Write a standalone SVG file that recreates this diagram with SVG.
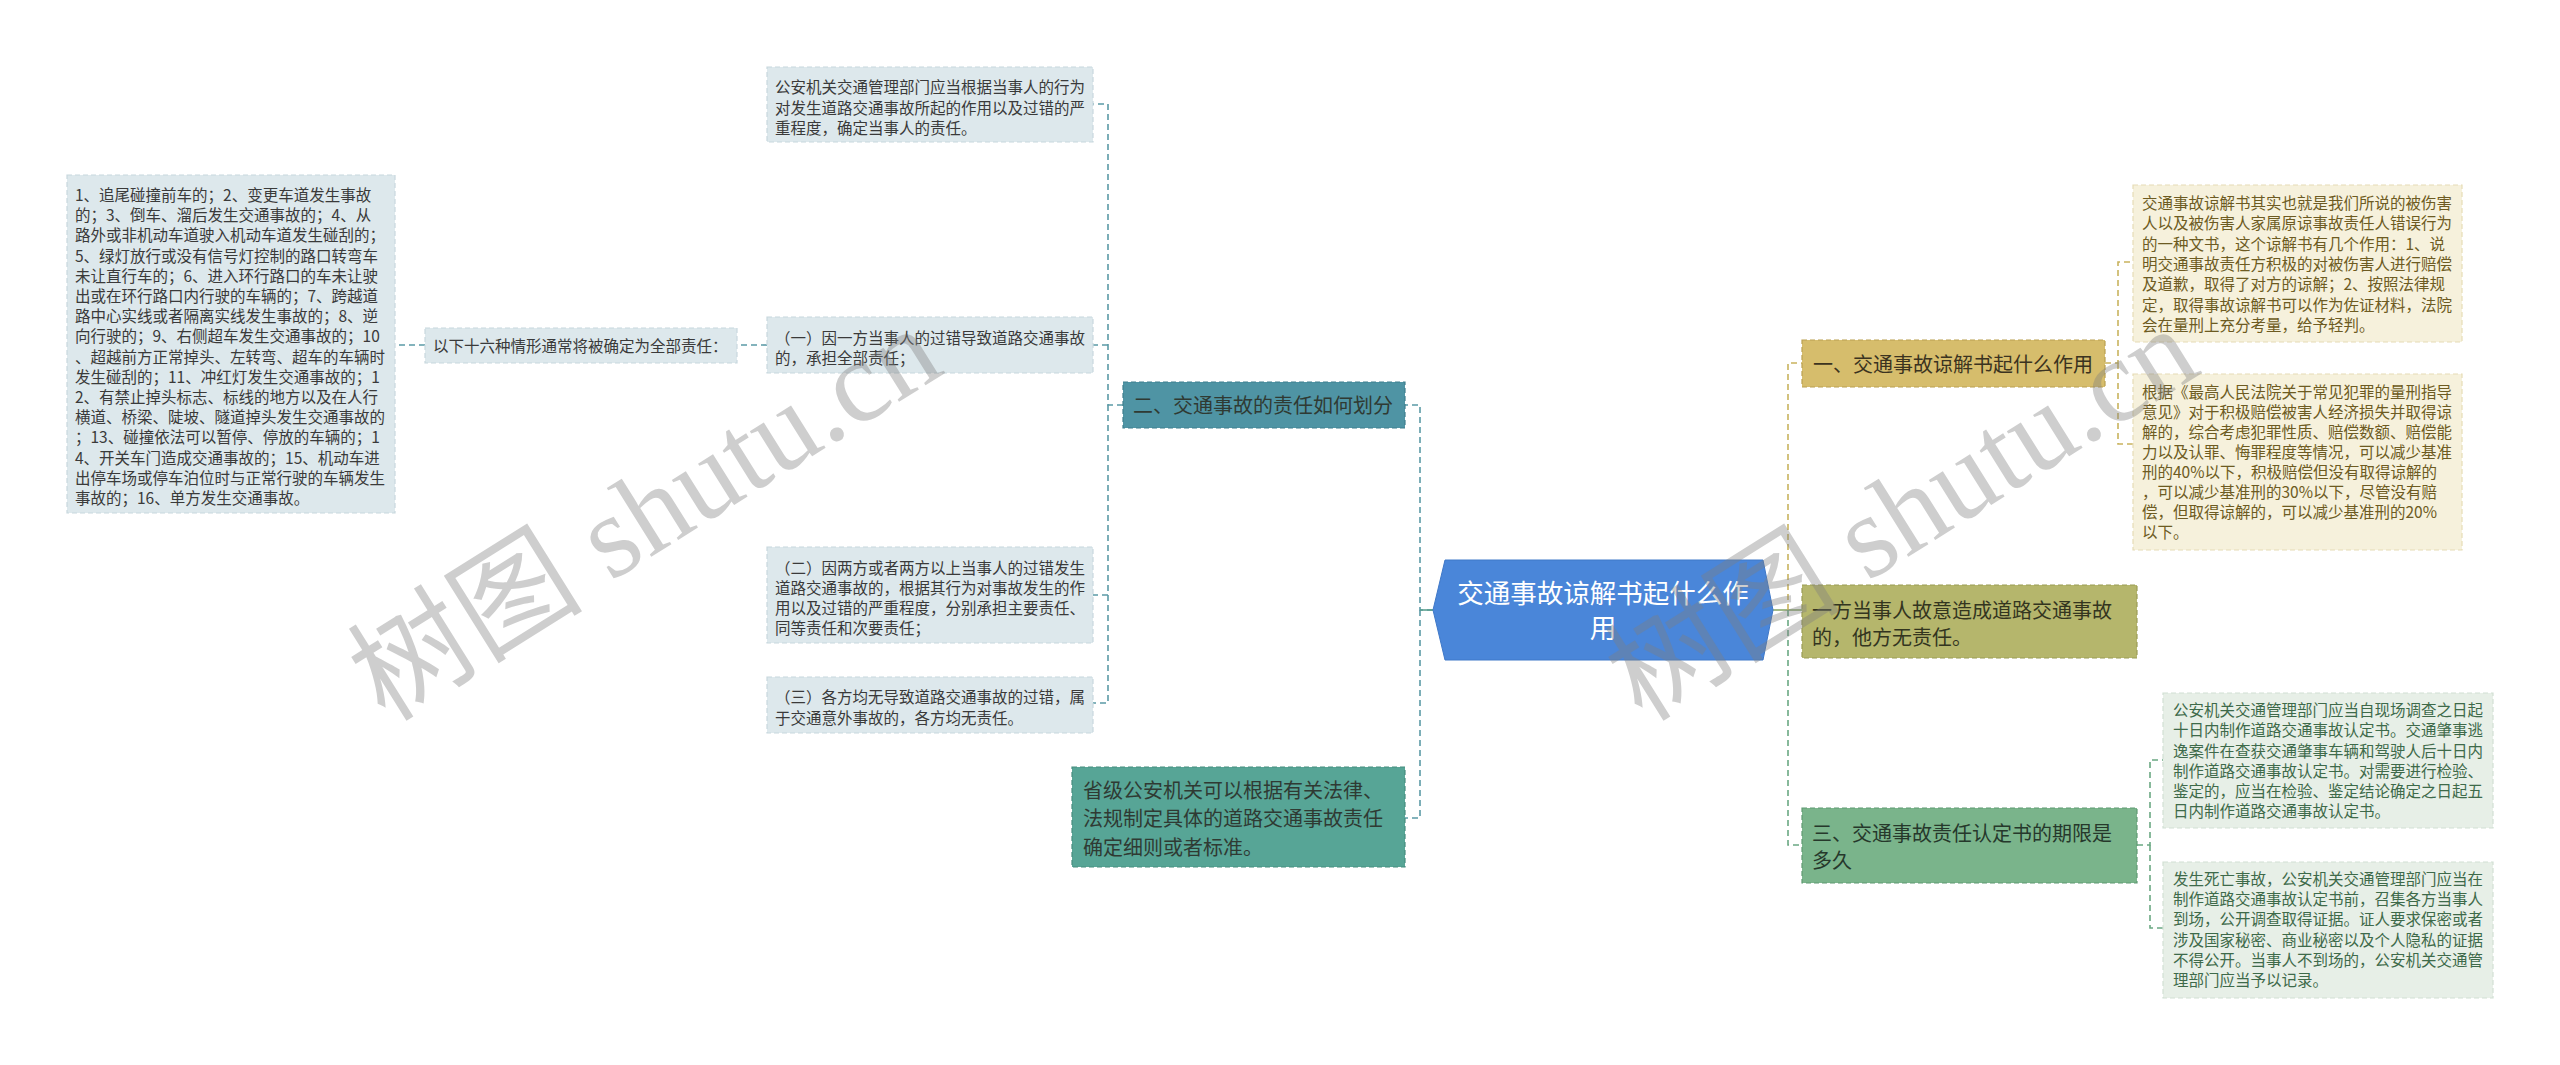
<svg xmlns="http://www.w3.org/2000/svg" width="2560" height="1065" viewBox="0 0 2560 1065">
<style>
text{font-family:"Noto Sans CJK SC","Noto Sans",sans-serif}
.s{font-size:15.5px}
.m{font-size:20px}
.lb{fill:#dde8ec;stroke:#c8d8de;stroke-width:1.2;stroke-dasharray:5 3}
.lbt{fill:#3a3a3a}
.yb{fill:#f6f1dc;stroke:#e6dcb6;stroke-width:1.2;stroke-dasharray:5 3}
.ybt{fill:#6d5b22}
.gb{fill:#e7efe7;stroke:#d2e0d4;stroke-width:1.2;stroke-dasharray:5 3}
.gbt{fill:#3e6a4a}
.mt{fill:#2f3a33}
.cl{fill:none;stroke-width:1.6;stroke-dasharray:6 4}
.teal{stroke:#5b9aa6}
.yel{stroke:#c9b35e}
.grn{stroke:#6aa882}
.wm{font-family:"Liberation Serif","Noto Sans CJK SC",serif;font-size:118px;fill:#7f7f7f;opacity:0.38}
</style>

<g id="connectors">
  <path class="cl teal" d="M1433,610 H1420 V405 H1405"/>
  <path class="cl teal" d="M1420,610 V818 H1405"/>
  <path class="cl teal" d="M1123,405 H1108 V104 H1093"/>
  <path class="cl teal" d="M1108,345 H1093"/>
  <path class="cl teal" d="M1108,405 V595 H1093"/>
  <path class="cl teal" d="M1108,595 V703 H1093"/>
  <path class="cl teal" d="M767,345 H737"/>
  <path class="cl teal" d="M425,345 H395"/>
  <path fill="none" stroke="#5a9e8e" stroke-width="1.6" d="M1420,610 H1433"/>
  <path fill="none" stroke="#8aa86a" stroke-width="1.6" d="M1773,610 H1802"/>
  <path class="cl yel" d="M1788,610 V363 H1802"/>
  <path class="cl grn" d="M1788,610 V845 H1802"/>
  <path class="cl yel" d="M2105,363 H2118 V262 H2133"/>
  <path class="cl yel" d="M2118,363 V444 H2133"/>
  <path class="cl grn" d="M2137,845 H2150 V760 H2163"/>
  <path class="cl grn" d="M2150,845 V928 H2163"/>
</g>

<g id="center">
  <polygon points="1433,610 1445,560 1763,560 1773,610 1763,660 1445,660" fill="#4a86d9" stroke="#3f78c8" stroke-width="1"/>
  <text x="1603" y="603" font-size="26.5" fill="#ffffff" text-anchor="middle">交通事故谅解书起什么作</text>
  <text x="1603" y="638" font-size="26.5" fill="#ffffff" text-anchor="middle">用</text>
</g>

<g id="n-left-main">
  <rect x="1123" y="382" width="282" height="46" fill="#4f94a4" stroke="#3f7f8e" stroke-width="1.2" stroke-dasharray="5 3"/>
  <text class="m mt" x="1133" y="413">二、交通事故的责任如何划分</text>
</g>

<g id="n-province">
  <rect x="1072" y="767" width="333" height="100" fill="#57a596" stroke="#468d7f" stroke-width="1.2" stroke-dasharray="5 3"/>
  <text class="m mt" x="1083" y="798">省级公安机关可以根据有关法律、</text>
  <text class="m mt" x="1083" y="826">法规制定具体的道路交通事故责任</text>
  <text class="m mt" x="1083" y="855">确定细则或者标准。</text>
</g>

<g id="n-l1">
  <rect class="lb" x="767" y="67" width="326" height="75"/>
  <text class="s lbt" x="775" y="93">公安机关交通管理部门应当根据当事人的行为</text>
  <text class="s lbt" x="775" y="114">对发生道路交通事故所起的作用以及过错的严</text>
  <text class="s lbt" x="775" y="134">重程度，确定当事人的责任。</text>
</g>

<g id="n-l2">
  <rect class="lb" x="767" y="317" width="326" height="56"/>
  <text class="s lbt" x="775" y="344">（一）因一方当事人的过错导致道路交通事故</text>
  <text class="s lbt" x="775" y="364">的，承担全部责任；</text>
</g>

<g id="n-l3">
  <rect class="lb" x="767" y="547" width="326" height="96"/>
  <text class="s lbt" x="775" y="574">（二）因两方或者两方以上当事人的过错发生</text>
  <text class="s lbt" x="775" y="594">道路交通事故的，根据其行为对事故发生的作</text>
  <text class="s lbt" x="775" y="614">用以及过错的严重程度，分别承担主要责任、</text>
  <text class="s lbt" x="775" y="634">同等责任和次要责任；</text>
</g>

<g id="n-l4">
  <rect class="lb" x="767" y="677" width="326" height="56"/>
  <text class="s lbt" x="775" y="703">（三）各方均无导致道路交通事故的过错，属</text>
  <text class="s lbt" x="775" y="724">于交通意外事故的，各方均无责任。</text>
</g>

<g id="n-l5">
  <rect class="lb" x="425" y="328" width="312" height="35"/>
  <text class="s lbt" x="433" y="352">以下十六种情形通常将被确定为全部责任：</text>
</g>

<g id="n-l6">
  <rect class="lb" x="67" y="175" width="328" height="338"/>
  <text class="s lbt" x="75" y="201">1、追尾碰撞前车的；2、变更车道发生事故</text>
  <text class="s lbt" x="75" y="221">的；3、倒车、溜后发生交通事故的；4、从</text>
  <text class="s lbt" x="75" y="241">路外或非机动车道驶入机动车道发生碰刮的；</text>
  <text class="s lbt" x="75" y="262">5、绿灯放行或没有信号灯控制的路口转弯车</text>
  <text class="s lbt" x="75" y="282">未让直行车的；6、进入环行路口的车未让驶</text>
  <text class="s lbt" x="75" y="302">出或在环行路口内行驶的车辆的；7、跨越道</text>
  <text class="s lbt" x="75" y="322">路中心实线或者隔离实线发生事故的；8、逆</text>
  <text class="s lbt" x="75" y="342">向行驶的；9、右侧超车发生交通事故的；10</text>
  <text class="s lbt" x="75" y="363">、超越前方正常掉头、左转弯、超车的车辆时</text>
  <text class="s lbt" x="75" y="383">发生碰刮的；11、冲红灯发生交通事故的；1</text>
  <text class="s lbt" x="75" y="403">2、有禁止掉头标志、标线的地方以及在人行</text>
  <text class="s lbt" x="75" y="423">横道、桥梁、陡坡、隧道掉头发生交通事故的</text>
  <text class="s lbt" x="75" y="443">；13、碰撞依法可以暂停、停放的车辆的；1</text>
  <text class="s lbt" x="75" y="464">4、开关车门造成交通事故的；15、机动车进</text>
  <text class="s lbt" x="75" y="484">出停车场或停车泊位时与正常行驶的车辆发生</text>
  <text class="s lbt" x="75" y="504">事故的；16、单方发生交通事故。</text>
</g>

<g id="n-r1">
  <rect x="1802" y="340" width="303" height="47" fill="#d6bd6c" stroke="#b9a050" stroke-width="1.2" stroke-dasharray="5 3"/>
  <text class="m" fill="#3b3320" x="1813" y="372">一、交通事故谅解书起什么作用</text>
</g>

<g id="n-r2">
  <rect x="1802" y="585" width="335" height="73" fill="#b5b66c" stroke="#9a9c55" stroke-width="1.2" stroke-dasharray="5 3"/>
  <text class="m" fill="#33351f" x="1812" y="618">一方当事人故意造成道路交通事故</text>
  <text class="m" fill="#33351f" x="1812" y="645">的，他方无责任。</text>
</g>

<g id="n-r3">
  <rect x="1802" y="808" width="335" height="75" fill="#7ab48b" stroke="#5f9a72" stroke-width="1.2" stroke-dasharray="5 3"/>
  <text class="m" fill="#26382b" x="1812" y="841">三、交通事故责任认定书的期限是</text>
  <text class="m" fill="#26382b" x="1812" y="868">多久</text>
</g>

<g id="n-r1a">
  <rect class="yb" x="2133" y="185" width="329" height="157"/>
  <text class="s ybt" x="2142" y="209">交通事故谅解书其实也就是我们所说的被伤害</text>
  <text class="s ybt" x="2142" y="229">人以及被伤害人家属原谅事故责任人错误行为</text>
  <text class="s ybt" x="2142" y="250">的一种文书，这个谅解书有几个作用：1、说</text>
  <text class="s ybt" x="2142" y="270">明交通事故责任方积极的对被伤害人进行赔偿</text>
  <text class="s ybt" x="2142" y="290">及道歉，取得了对方的谅解；2、按照法律规</text>
  <text class="s ybt" x="2142" y="311">定，取得事故谅解书可以作为佐证材料，法院</text>
  <text class="s ybt" x="2142" y="331">会在量刑上充分考量，给予轻判。</text>
</g>

<g id="n-r1b">
  <rect class="yb" x="2133" y="374" width="329" height="176"/>
  <text class="s ybt" x="2142" y="398">根据《最高人民法院关于常见犯罪的量刑指导</text>
  <text class="s ybt" x="2142" y="418">意见》对于积极赔偿被害人经济损失并取得谅</text>
  <text class="s ybt" x="2142" y="438">解的，综合考虑犯罪性质、赔偿数额、赔偿能</text>
  <text class="s ybt" x="2142" y="458">力以及认罪、悔罪程度等情况，可以减少基准</text>
  <text class="s ybt" x="2142" y="478">刑的40%以下，积极赔偿但没有取得谅解的</text>
  <text class="s ybt" x="2142" y="498">，可以减少基准刑的30%以下，尽管没有赔</text>
  <text class="s ybt" x="2142" y="518">偿，但取得谅解的，可以减少基准刑的20%</text>
  <text class="s ybt" x="2142" y="538">以下。</text>
</g>

<g id="n-r3a">
  <rect class="gb" x="2163" y="693" width="330" height="135"/>
  <text class="s gbt" x="2173" y="716">公安机关交通管理部门应当自现场调查之日起</text>
  <text class="s gbt" x="2173" y="736">十日内制作道路交通事故认定书。交通肇事逃</text>
  <text class="s gbt" x="2173" y="757">逸案件在查获交通肇事车辆和驾驶人后十日内</text>
  <text class="s gbt" x="2173" y="777">制作道路交通事故认定书。对需要进行检验、</text>
  <text class="s gbt" x="2173" y="797">鉴定的，应当在检验、鉴定结论确定之日起五</text>
  <text class="s gbt" x="2173" y="817">日内制作道路交通事故认定书。</text>
</g>

<g id="n-r3b">
  <rect class="gb" x="2163" y="862" width="330" height="136"/>
  <text class="s gbt" x="2173" y="885">发生死亡事故，公安机关交通管理部门应当在</text>
  <text class="s gbt" x="2173" y="905">制作道路交通事故认定书前，召集各方当事人</text>
  <text class="s gbt" x="2173" y="925">到场，公开调查取得证据。证人要求保密或者</text>
  <text class="s gbt" x="2173" y="946">涉及国家秘密、商业秘密以及个人隐私的证据</text>
  <text class="s gbt" x="2173" y="966">不得公开。当事人不到场的，公安机关交通管</text>
  <text class="s gbt" x="2173" y="986">理部门应当予以记录。</text>
</g>

<g id="watermark">
  <text class="wm" x="645" y="514" text-anchor="middle" dominant-baseline="central" transform="rotate(-32 645 514)">树图 shutu.cn</text>
  <text class="wm" x="1902" y="514" text-anchor="middle" dominant-baseline="central" transform="rotate(-32 1902 514)">树图 shutu.cn</text>
</g>
</svg>
